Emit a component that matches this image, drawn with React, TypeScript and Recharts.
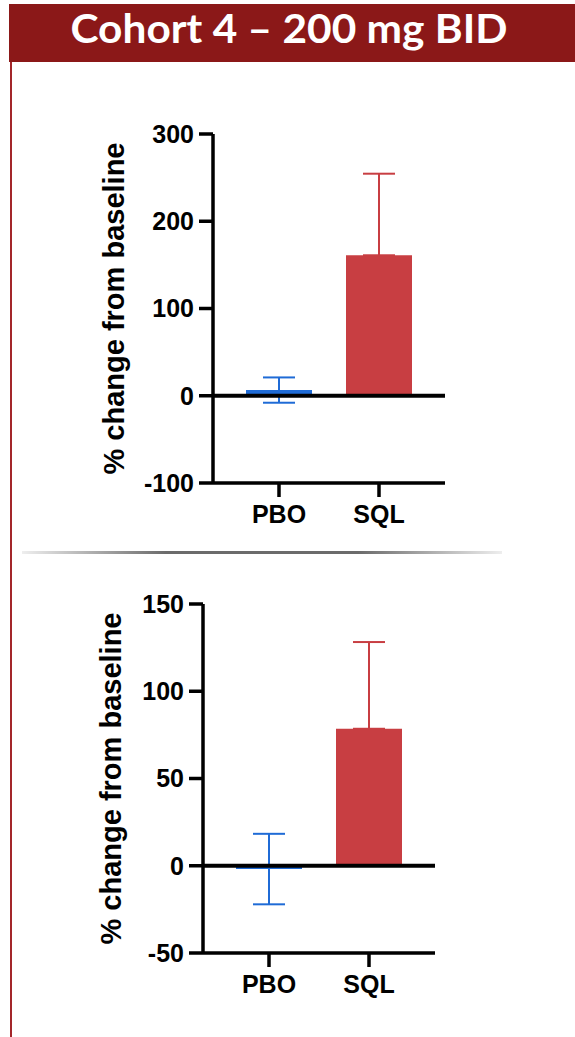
import { Bar, BarChart, Cell, ErrorBar, Label, ReferenceLine, XAxis, YAxis } from 'recharts';

// #region Sample data
const categories = ['PBO', 'SQL'];
const barColors = ['#1f6bd6', '#c83e42'];

// upper panel
const topMeans = [6.5, 161];
const topErrPbo = [14.5, 14.5];
const topErrSql = [0, 93.5];
const topTicks = [-100, 0, 100, 200, 300];

// lower panel
const bottomMeans = [-1.9, 78.5];
const bottomErrPbo = [20.2, 20.2];
const bottomErrSql = [0, 49.7];
const bottomTicks = [-50, 0, 50, 100, 150];
// #endregion

const axisFont = { fill: '#000', fontSize: 25, fontWeight: 700, fontFamily: '"Liberation Sans", Arial, sans-serif' };

function ChangeChart({ means, errPbo, errSql, ticks, labelOffset }: any) {
    const data = categories.map((name, i) => ({
        name,
        value: means[i],
        errPbo: i === 0 ? errPbo : undefined,
        errSql: i === 1 ? errSql : undefined,
    }));
    return (
        <BarChart width={470} height={450} data={data} margin={{ top: 34, right: 25, bottom: 0, left: 0 }} barCategoryGap={0} barSize={66}>
            <XAxis dataKey="name" height={67} interval={0} padding={{ left: 16, right: 16 }}
                axisLine={{ stroke: '#000', strokeWidth: 3.5 }} tickLine={{ stroke: '#000', strokeWidth: 3.5 }}
                tickSize={14} tickMargin={8} tick={axisFont} />
            <YAxis width={213} type="number" domain={[ticks[0], ticks[ticks.length - 1]]} ticks={ticks} interval={0}
                axisLine={{ stroke: '#000', strokeWidth: 3.5 }} tickLine={{ stroke: '#000', strokeWidth: 3.5 }}
                tickSize={14} tickMargin={5} tick={axisFont}>
                <Label value="% change from baseline" angle={-90} position="insideLeft" offset={labelOffset}
                    style={{ textAnchor: 'middle', fill: '#000', fontSize: 29, fontWeight: 700, fontFamily: '"Liberation Sans", Arial, sans-serif' }} />
            </YAxis>
            <Bar dataKey="value" isAnimationActive={false}>
                {data.map((d, i) => <Cell key={d.name} fill={barColors[i]} />)}
                <ErrorBar dataKey="errPbo" width={16} stroke={barColors[0]} strokeWidth={2} />
                <ErrorBar dataKey="errSql" width={16} stroke={barColors[1]} strokeWidth={2} />
            </Bar>
            <ReferenceLine y={0} stroke="#000" strokeWidth={4} />
        </BarChart>
    );
}

export default function App() {
    return (
        <div style={{ position: 'absolute', left: 0, top: 0, width: 575, height: 1037, background: '#fff', overflow: 'hidden' }}>
            <div style={{ position: 'absolute', left: 9, top: 4, width: 566, height: 58, background: '#8b1818' }}>
                <svg width={566} height={58}>
                    <text x={280} y={39} textAnchor="middle" fill="#fff" fontSize={41} fontWeight={700}
                        fontFamily="Lato, 'Open Sans', sans-serif" textLength={437} lengthAdjust="spacingAndGlyphs">
                        Cohort 4 – 200 mg BID
                    </text>
                </svg>
            </div>
            <div style={{ position: 'absolute', left: 10, top: 62, width: 2, height: 975, background: '#a3262a' }} />
            <div style={{ position: 'absolute', left: 22, top: 551, width: 480, height: 3, background: 'linear-gradient(to right, #eeeeee, #6b6b6b 30%, #6b6b6b 70%, #eeeeee)' }} />
            <div style={{ position: 'absolute', left: 0, top: 100 }}>
                <ChangeChart means={topMeans} errPbo={topErrPbo} errSql={topErrSql} ticks={topTicks} labelOffset={114} />
            </div>
            <div style={{ position: 'absolute', left: -10, top: 570 }}>
                <ChangeChart means={bottomMeans} errPbo={bottomErrPbo} errSql={bottomErrSql} ticks={bottomTicks} labelOffset={121} />
            </div>
        </div>
    );
}
